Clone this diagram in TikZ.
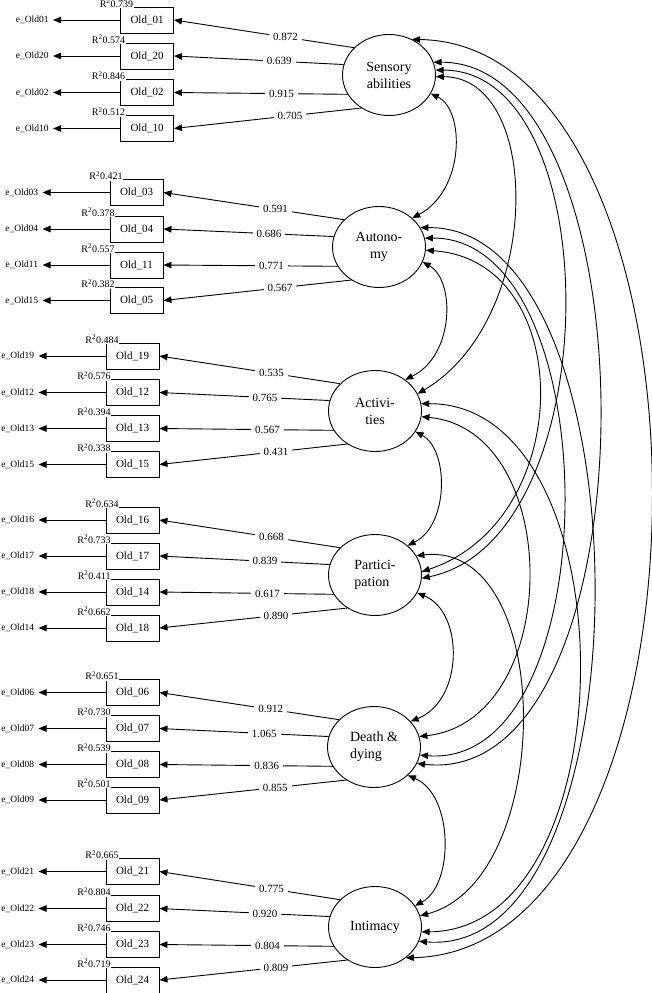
\documentclass[tikz,border=0pt]{standalone}
\usepackage{fontspec}
\setmainfont{Liberation Serif}
\usetikzlibrary{positioning,shapes.geometric,arrows.meta}

\begin{document}
\begin{tikzpicture}[
  x=1pt, y=-1pt,
  line width=0.9pt,
  factor/.style={draw, ellipse, minimum width=93pt, minimum height=81pt, inner sep=0pt, align=center, font=\fontsize{14}{17}\selectfont},
  ind/.style={draw, rectangle, minimum width=53pt, minimum height=26pt, inner sep=0pt, font=\fontsize{11}{13}\selectfont},
  err/.style={inner xsep=4pt, inner ysep=1pt, font=\fontsize{9.5}{11}\selectfont},
  r2/.style={fill=white, inner sep=0.5pt, anchor=south east, yshift=-2pt, xshift=6pt, font=\fontsize{10}{12}\selectfont},
  r2top/.style={fill=white, inner sep=0.5pt, anchor=south east, yshift=-2pt, xshift=14pt, font=\fontsize{10}{12}\selectfont},
  load/.style={fill=white, inner xsep=4pt, inner ysep=1pt, pos=0.38, font=\fontsize{11}{13}\selectfont},
  arr/.style={-{Triangle[length=8pt,width=6.5pt]}},
  cov/.style={{Triangle[length=8pt,width=6.5pt]}-{Triangle[length=8pt,width=6.5pt]}}
]
\useasboundingbox (0,0) rectangle (652,993);

\node[factor] (sens) at (389,75) {Sensory\\abilities};
\node[factor] (auto) at (379,247) {Autono-\\my};
\node[factor] (acti) at (375,411) {Activi-\\ties};
\node[factor, align=left] (part) at (375,575) {Partici-\\pation};
\node[factor, align=left] (death) at (374,747) {Death \&\\dying};
\node[factor] (intim) at (375,927) {Intimacy};

\node[ind, label={[r2top]north west:R\textsuperscript{2}0.739}] (o01) at (147,20) {Old\_01};
\node[ind, label={[r2]north west:R\textsuperscript{2}0.574}] (o20) at (147,56) {Old\_20};
\node[ind, label={[r2]north west:R\textsuperscript{2}0.846}] (o02) at (147,92.5) {Old\_02};
\node[ind, label={[r2]north west:R\textsuperscript{2}0.512}] (o10) at (147,128.5) {Old\_10};
\node[err, left=67pt of o01] (e01) {e\_Old01};
\node[err, left=67pt of o20] (e20) {e\_Old20};
\node[err, left=67pt of o02] (e02) {e\_Old02};
\node[err, left=67pt of o10] (e10) {e\_Old10};
\draw[arr] (o01) -- (e01);
\draw[arr] (o20) -- (e20);
\draw[arr] (o02) -- (e02);
\draw[arr] (o10) -- (e10);
\draw[arr] (sens.142) -- node[load] {0.872} (o01.east);
\draw[arr] (sens.167) -- node[load] {0.639} (o20.east);
\draw[arr] (sens.205) -- node[load] {0.915} (o02.east);
\draw[arr] (sens.230) -- node[load] {0.705} (o10.east);

\node[ind, label={[r2top]north west:R\textsuperscript{2}0.421}] (o03) at (136.5,192.5) {Old\_03};
\node[ind, label={[r2]north west:R\textsuperscript{2}0.378}] (o04) at (136.5,229) {Old\_04};
\node[ind, label={[r2]north west:R\textsuperscript{2}0.557}] (o11) at (136.5,265) {Old\_11};
\node[ind, label={[r2]north west:R\textsuperscript{2}0.382}] (o05) at (136.5,300.5) {Old\_05};
\node[err, left=67pt of o03] (e03) {e\_Old03};
\node[err, left=67pt of o04] (e04) {e\_Old04};
\node[err, left=67pt of o11] (e11) {e\_Old11};
\node[err, left=67pt of o05] (e05) {e\_Old15};
\draw[arr] (o03) -- (e03);
\draw[arr] (o04) -- (e04);
\draw[arr] (o11) -- (e11);
\draw[arr] (o05) -- (e05);
\draw[arr] (auto.142) -- node[load] {0.591} (o03.east);
\draw[arr] (auto.167) -- node[load] {0.686} (o04.east);
\draw[arr] (auto.205) -- node[load] {0.771} (o11.east);
\draw[arr] (auto.230) -- node[load] {0.567} (o05.east);

\node[ind, label={[r2top]north west:R\textsuperscript{2}0.484}] (o19) at (132.5,356) {Old\_19};
\node[ind, label={[r2]north west:R\textsuperscript{2}0.576}] (o12) at (132.5,392.5) {Old\_12};
\node[ind, label={[r2]north west:R\textsuperscript{2}0.394}] (o13) at (132.5,428.5) {Old\_13};
\node[ind, label={[r2]north west:R\textsuperscript{2}0.338}] (o15) at (132.5,464.5) {Old\_15};
\node[err, left=67pt of o19] (e19) {e\_Old19};
\node[err, left=67pt of o12] (e12) {e\_Old12};
\node[err, left=67pt of o13] (e13) {e\_Old13};
\node[err, left=67pt of o15] (e15) {e\_Old15};
\draw[arr] (o19) -- (e19);
\draw[arr] (o12) -- (e12);
\draw[arr] (o13) -- (e13);
\draw[arr] (o15) -- (e15);
\draw[arr] (acti.142) -- node[load] {0.535} (o19.east);
\draw[arr] (acti.167) -- node[load] {0.765} (o12.east);
\draw[arr] (acti.205) -- node[load] {0.567} (o13.east);
\draw[arr] (acti.230) -- node[load] {0.431} (o15.east);

\node[ind, label={[r2top]north west:R\textsuperscript{2}0.634}] (o16) at (132.5,520) {Old\_16};
\node[ind, label={[r2]north west:R\textsuperscript{2}0.733}] (o17) at (132.5,556) {Old\_17};
\node[ind, label={[r2]north west:R\textsuperscript{2}0.411}] (o14) at (132.5,592) {Old\_14};
\node[ind, label={[r2]north west:R\textsuperscript{2}0.662}] (o18) at (132.5,628) {Old\_18};
\node[err, left=67pt of o16] (e16) {e\_Old16};
\node[err, left=67pt of o17] (e17) {e\_Old17};
\node[err, left=67pt of o14] (e14) {e\_Old18};
\node[err, left=67pt of o18] (e18) {e\_Old14};
\draw[arr] (o16) -- (e16);
\draw[arr] (o17) -- (e17);
\draw[arr] (o14) -- (e14);
\draw[arr] (o18) -- (e18);
\draw[arr] (part.142) -- node[load] {0.668} (o16.east);
\draw[arr] (part.167) -- node[load] {0.839} (o17.east);
\draw[arr] (part.205) -- node[load] {0.617} (o14.east);
\draw[arr] (part.230) -- node[load] {0.890} (o18.east);

\node[ind, label={[r2top]north west:R\textsuperscript{2}0.651}] (o06) at (132.5,692.5) {Old\_06};
\node[ind, label={[r2]north west:R\textsuperscript{2}0.730}] (o07) at (132.5,728.5) {Old\_07};
\node[ind, label={[r2]north west:R\textsuperscript{2}0.539}] (o08) at (132.5,764.5) {Old\_08};
\node[ind, label={[r2]north west:R\textsuperscript{2}0.501}] (o09) at (132.5,800) {Old\_09};
\node[err, left=67pt of o06] (e06) {e\_Old06};
\node[err, left=67pt of o07] (e07) {e\_Old07};
\node[err, left=67pt of o08] (e08) {e\_Old08};
\node[err, left=67pt of o09] (e09) {e\_Old09};
\draw[arr] (o06) -- (e06);
\draw[arr] (o07) -- (e07);
\draw[arr] (o08) -- (e08);
\draw[arr] (o09) -- (e09);
\draw[arr] (death.142) -- node[load] {0.912} (o06.east);
\draw[arr] (death.167) -- node[load] {1.065} (o07.east);
\draw[arr] (death.205) -- node[load] {0.836} (o08.east);
\draw[arr] (death.230) -- node[load] {0.855} (o09.east);

\node[ind, label={[r2top]north west:R\textsuperscript{2}0.665}] (o21) at (132.5,871.5) {Old\_21};
\node[ind, label={[r2]north west:R\textsuperscript{2}0.804}] (o22) at (132.5,908.5) {Old\_22};
\node[ind, label={[r2]north west:R\textsuperscript{2}0.746}] (o23) at (132.5,944.5) {Old\_23};
\node[ind, label={[r2]north west:R\textsuperscript{2}0.719}] (o24) at (132.5,980) {Old\_24};
\node[err, left=67pt of o21] (e21) {e\_Old21};
\node[err, left=67pt of o22] (e22) {e\_Old22};
\node[err, left=67pt of o23] (e23) {e\_Old23};
\node[err, left=67pt of o24] (e24) {e\_Old24};
\draw[arr] (o21) -- (e21);
\draw[arr] (o22) -- (e22);
\draw[arr] (o23) -- (e23);
\draw[arr] (o24) -- (e24);
\draw[arr] (intim.142) -- node[load] {0.775} (o21.east);
\draw[arr] (intim.167) -- node[load] {0.920} (o22.east);
\draw[arr] (intim.205) -- node[load] {0.804} (o23.east);
\draw[arr] (intim.230) -- node[load] {0.809} (o24.east);

\draw[cov] (sens.-24) .. controls (465,110) and (465,190) .. (auto.41);
\draw[cov] (auto.-19) .. controls (455,280) and (455,355) .. (acti.46);
\draw[cov] (acti.-27) .. controls (449,450) and (449,525) .. (part.42);
\draw[cov] (part.-23) .. controls (464,612) and (464,700) .. (death.35);
\draw[cov] (death.-40) .. controls (454,795) and (454,885) .. (intim.28);

\draw[cov] (sens.57) .. controls (731,45) and (731,950) .. (intim.-45);
\draw[cov] (sens.16) .. controls (657,62) and (657,790) .. (death.-21);
\draw[cov] (sens.6) .. controls (609,70) and (609,540) .. (part.-4);
\draw[cov] (sens.-2) .. controls (543,77) and (543,320) .. (acti.22);
\draw[cov] (auto.25) .. controls (651,225) and (651,960) .. (intim.-18);
\draw[cov] (auto.11) .. controls (610,237) and (610,770) .. (death.-10);
\draw[cov] (auto.-4) .. controls (577,260) and (577,520) .. (part.4);
\draw[cov] (acti.9) .. controls (631,403) and (631,930) .. (intim.-6);
\draw[cov] (acti.-7) .. controls (564,430) and (564,720) .. (death.13);
\draw[cov] (part.25) .. controls (556,540) and (556,880) .. (intim.14);
\end{tikzpicture}
\end{document}
